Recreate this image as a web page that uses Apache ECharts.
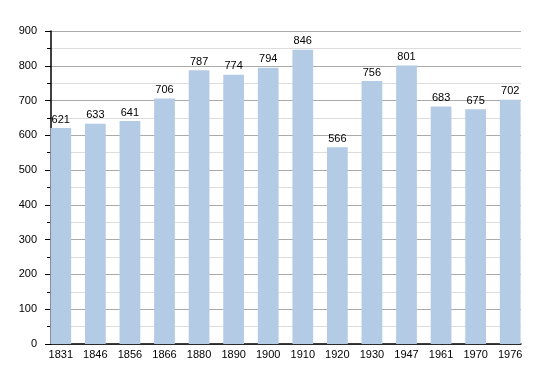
<!DOCTYPE html>
<html><head><meta charset="utf-8">
<script src="https://cdn.jsdelivr.net/npm/echarts@6/dist/echarts.min.js"></script>
<style>html,body{margin:0;padding:0;background:#fff}#c{width:550px;height:373px}</style>
</head><body><div id="c"></div>
<script>
const categories = ['1831','1846','1856','1866','1880','1890','1900','1910','1920','1930','1947','1961','1970','1976'];
const population = [621,633,641,706,787,774,794,846,566,756,801,683,675,702];
const yTicks = {min:0, max:900, interval:100};

const chart = echarts.init(document.getElementById('c'), null, {renderer:'canvas'});
const font = {color:'#000', fontFamily:'Liberation Sans', fontSize:11};
chart.setOption({
  animation:false,
  grid:[
    {left:51, right:29, top:31, bottom:29},
    {left:43.5, right:22.5, top:31, bottom:29}
  ],
  xAxis:[
    {gridIndex:0, type:'category', data:categories, boundaryGap:true,
     axisLine:{lineStyle:{color:'#000', width:1.5}}, axisTick:{show:false},
     axisLabel:{show:false}, splitLine:{show:false}},
    {gridIndex:1, type:'category', data:categories,
     axisLine:{show:false}, axisTick:{show:false},
     axisLabel:Object.assign({margin:5}, font), splitLine:{show:false}}
  ],
  yAxis:[
    {gridIndex:0, type:'value', min:yTicks.min, max:yTicks.max, interval:yTicks.interval,
     axisLine:{show:true, lineStyle:{color:'#000', width:1.5}},
     axisTick:{show:true, length:6, lineStyle:{color:'#000'}},
     minorTick:{show:true, splitNumber:2, length:4, lineStyle:{color:'#000'}},
     axisLabel:Object.assign({margin:14}, font),
     splitLine:{show:true, lineStyle:{color:'#aaaaaa', width:1}},
     minorSplitLine:{show:true, lineStyle:{color:'#dddddd', width:1}}},
    {gridIndex:1, type:'value', min:yTicks.min, max:yTicks.max, interval:yTicks.interval,
     show:false, splitLine:{show:false}}
  ],
  series:[{
    type:'bar', xAxisIndex:1, yAxisIndex:1, data:population, barWidth:'60%',
    itemStyle:{color:'#b3cbe5'},
    label:Object.assign({show:true, position:'top', distance:3}, font)
  }]
});
</script></body></html>
